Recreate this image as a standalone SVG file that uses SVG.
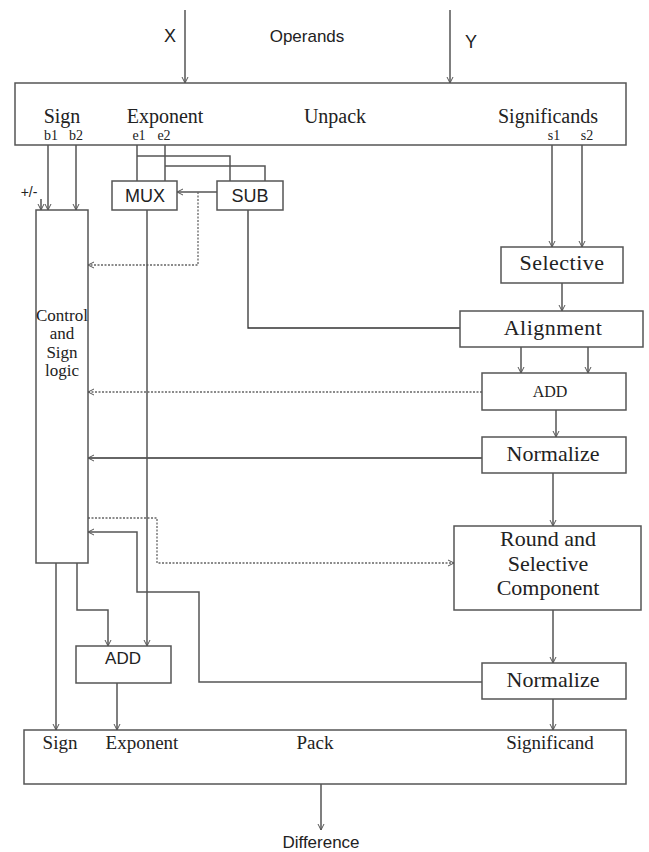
<svg xmlns="http://www.w3.org/2000/svg" width="649" height="852" viewBox="0 0 649 852">
<defs>
<marker id="arr" viewBox="0 0 8 8" refX="7" refY="4" markerWidth="8" markerHeight="8" markerUnits="userSpaceOnUse" orient="auto">
<path d="M1,1 L7,4 L1,7" fill="none" stroke="#555" stroke-width="1"/>
</marker>
</defs>
<style>
.box{fill:#fff;stroke:#555;stroke-width:1.5}
.ln{fill:none;stroke:#555;stroke-width:1.5}
.dk{fill:none;stroke:#333;stroke-width:1.3}
.dot{fill:none;stroke:#666;stroke-width:1.3;stroke-dasharray:2 1.5}
.a{marker-end:url(#arr)}
.serif{font-family:"Liberation Serif","Times New Roman",serif;fill:#222;text-anchor:middle}
.sans{font-family:"Liberation Sans",Arial,sans-serif;fill:#222;text-anchor:middle}
</style>
<rect width="649" height="852" fill="#fff"/>

<g id="connectors">
<path class="ln a" d="M185,10 V83"/>
<path class="ln a" d="M450,10 V83"/>
<path class="ln a" d="M48,145 V210"/>
<path class="ln a" d="M76,145 V210"/>
<path class="ln a" d="M41,199 V210"/>
<path class="ln" d="M137,145 V181"/>
<path class="ln" d="M137,156 H230 V181"/>
<path class="ln" d="M165,145 V181"/>
<path class="ln" d="M165,166 H265 V181"/>
<path class="ln a" d="M217,192 H177"/>
<path class="dot a" d="M198,192 V265 H88"/>
<path class="dk" d="M248,210 V328 H460"/>
<path class="ln a" d="M552,145 V247"/>
<path class="ln a" d="M582,145 V247"/>
<path class="ln a" d="M562,283 V311"/>
<path class="ln a" d="M521,347 V373"/>
<path class="ln a" d="M588,347 V373"/>
<path class="dot a" d="M482,392 H88"/>
<path class="ln a" d="M556,410 V437"/>
<path class="dk a" d="M482,458 H88"/>
<path class="ln a" d="M553,473 V526"/>
<path class="dot a" d="M88,518 H157 V563 H454"/>
<path class="ln a" d="M482,682 H199 V592 H137 V532 H88"/>
<path class="ln a" d="M553,610 V663"/>
<path class="ln a" d="M553,699 V730"/>
<path class="ln a" d="M147,210 V646"/>
<path class="ln a" d="M77,563 V610 H108 V646"/>
<path class="ln a" d="M56,563 V730"/>
<path class="ln a" d="M117,683 V730"/>
<path class="ln a" d="M321,784 V830"/>
</g>

<g id="operands">
<text class="sans" x="170" y="42" font-size="18">X</text>
<text class="sans" x="307" y="42" font-size="17">Operands</text>
<text class="sans" x="471" y="48" font-size="18">Y</text>
</g>

<g id="unpack">
<rect class="box" x="15" y="83" width="611" height="62"/>
<text class="serif" x="62" y="123" font-size="20">Sign</text>
<text class="serif" x="165" y="123" font-size="20">Exponent</text>
<text class="serif" x="335" y="123" font-size="20">Unpack</text>
<text class="serif" x="548" y="123" font-size="20">Significands</text>
<text class="serif" x="51" y="140" font-size="14">b1</text>
<text class="serif" x="76" y="140" font-size="14">b2</text>
<text class="serif" x="139" y="140" font-size="14">e1</text>
<text class="serif" x="164" y="140" font-size="14">e2</text>
<text class="serif" x="554" y="140" font-size="14">s1</text>
<text class="serif" x="587" y="140" font-size="14">s2</text>
</g>

<g id="plusminus">
<text class="sans" x="29" y="197" font-size="14">+/-</text>
</g>

<g id="control">
<rect class="box" x="36" y="210" width="52" height="353"/>
<text class="serif" x="62" y="321" font-size="17">Control</text>
<text class="serif" x="62" y="339" font-size="17">and</text>
<text class="serif" x="62" y="358" font-size="17">Sign</text>
<text class="serif" x="62" y="376" font-size="17">logic</text>
</g>

<g id="mux">
<rect class="box" x="112" y="181" width="65" height="29"/>
<text class="sans" x="145" y="202" font-size="18">MUX</text>
</g>

<g id="sub">
<rect class="box" x="217" y="181" width="66" height="29"/>
<text class="sans" x="250" y="202" font-size="18">SUB</text>
</g>

<g id="selective">
<rect class="box" x="501" y="247" width="122" height="36"/>
<text class="serif" x="562" y="270" font-size="22" letter-spacing="0.5">Selective</text>
</g>

<g id="alignment">
<rect class="box" x="460" y="311" width="183" height="36"/>
<text class="serif" x="553" y="335" font-size="22" letter-spacing="0.5">Alignment</text>
</g>

<g id="add-significand">
<rect class="box" x="482" y="373" width="144" height="37"/>
<text class="serif" x="550" y="397" font-size="16">ADD</text>
</g>

<g id="normalize1">
<rect class="box" x="482" y="437" width="144" height="36"/>
<text class="serif" x="553" y="461" font-size="22">Normalize</text>
</g>

<g id="round">
<rect class="box" x="454" y="526" width="187" height="84"/>
<text class="serif" x="548" y="546" font-size="22">Round and</text>
<text class="serif" x="548" y="571" font-size="22">Selective</text>
<text class="serif" x="548" y="595" font-size="22">Component</text>
</g>

<g id="add-exponent">
<rect class="box" x="76" y="646" width="95" height="37"/>
<text class="sans" x="123" y="664" font-size="17">ADD</text>
</g>

<g id="normalize2">
<rect class="box" x="482" y="663" width="144" height="36"/>
<text class="serif" x="553" y="687" font-size="22">Normalize</text>
</g>

<g id="pack">
<rect class="box" x="24" y="730" width="602" height="54"/>
<text class="serif" x="60" y="749" font-size="19">Sign</text>
<text class="serif" x="142" y="749" font-size="19">Exponent</text>
<text class="serif" x="315" y="749" font-size="19">Pack</text>
<text class="serif" x="550" y="749" font-size="19">Significand</text>
</g>

<g id="difference">
<text class="sans" x="321" y="848" font-size="17">Difference</text>
</g>
</svg>
